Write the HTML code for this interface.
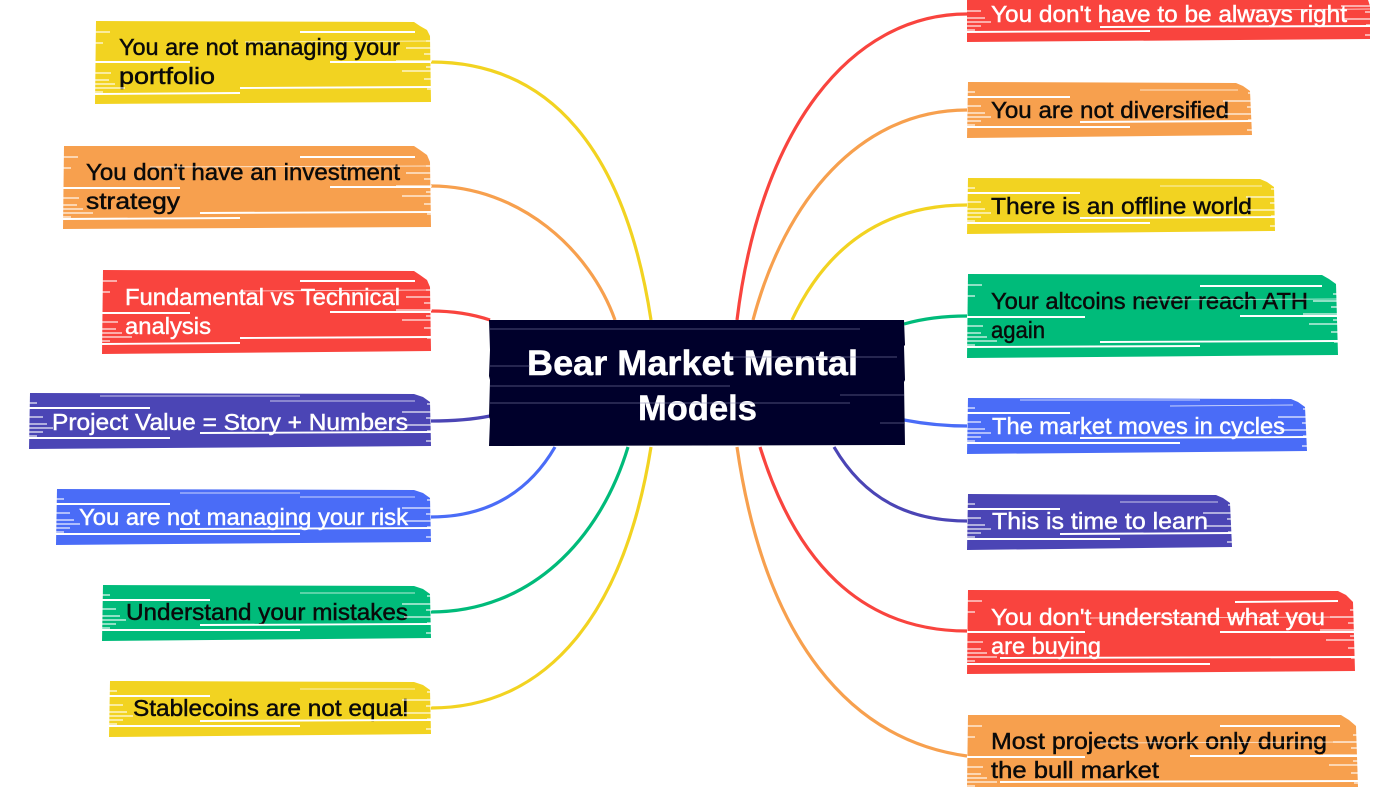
<!DOCTYPE html>
<html>
<head>
<meta charset="utf-8">
<style>
html,body{margin:0;padding:0;background:#fff;width:1400px;height:787px;overflow:hidden}
svg{display:block}
text{font-family:"Liberation Sans",sans-serif;font-size:23px;stroke-width:.45px;paint-order:stroke}
.k{fill:#0a0a0a;stroke:#0a0a0a}
.w{fill:#fff;stroke:#fff}
.c{fill:none;stroke-width:3.2;stroke-linecap:butt}
.s{stroke:#fff;stroke-width:1.9;fill:none}
.t{stroke:#fff;stroke-width:.9;fill:none;opacity:.7}
.n{stroke:#fff;stroke-width:1.2;fill:none;opacity:.9}
.d{stroke:#8a8ab0;stroke-width:1;fill:none;opacity:.55}
</style>
</head>
<body>
<svg width="1400" height="787" viewBox="0 0 1400 787" xmlns="http://www.w3.org/2000/svg">
<defs>
<path id="l2" class="n" d="M-1 11h15M-1 22h8M-1 52h16M-1 59h14M-1 63h20M-1 67h30M-1 71h8"/>
<path id="r2" class="n" d="M1 20h-6M1 27h-26M1 33h-8M1 40h-36M1 46h-6M1 50h-30M1 58h-8M1 68h-5"/>
<path id="l1" class="n" d="M-1 10h8M-1 24h14M-1 31h18M-1 35h24M-1 39h14M-1 43h8"/>
<path id="r1" class="n" d="M1 11h-5M1 19h-30M1 25h-6M1 32h-28M1 38h-5M1 48h-6"/>
</defs>
<!-- connectors -->
<path class="c" stroke="#f2d321" d="M431 62C550 62 625 150 651 320"/>
<path class="c" stroke="#f7a04e" d="M431 186C520 186 590 250 615 320"/>
<path class="c" stroke="#f9443e" d="M431 311C455 311 475 315 490 320"/>
<path class="c" stroke="#4b45b5" d="M431 421C455 421 475 419 490 416"/>
<path class="c" stroke="#4a6cf7" d="M431 517C490 517 530 490 555 447"/>
<path class="c" stroke="#00bb7a" d="M431 612C530 612 600 540 628 447"/>
<path class="c" stroke="#f2d321" d="M431 708C550 708 625 610 651 447"/>
<path class="c" stroke="#f9443e" d="M967 14C850 14 760 130 737 320"/>
<path class="c" stroke="#f7a04e" d="M967 110C860 110 785 200 753 320"/>
<path class="c" stroke="#f2d321" d="M967 205C880 205 825 250 792 320"/>
<path class="c" stroke="#00bb7a" d="M967 316C945 316 925 318 904 324"/>
<path class="c" stroke="#4a6cf7" d="M967 426C945 426 925 424 904 420"/>
<path class="c" stroke="#4b45b5" d="M967 521C910 521 865 500 834 447"/>
<path class="c" stroke="#f9443e" d="M967 631C860 631 795 560 760 447"/>
<path class="c" stroke="#f7a04e" d="M967 756C850 740 765 640 737 447"/>

<!-- left nodes -->
<g>
<path fill="#f2d321" d="M96 21L414 22 420 26 427 30 430 36 431 102 95 104 96 21Z"/>
<text class="k" x="119" y="55" textLength="281" lengthAdjust="spacingAndGlyphs">You are not managing your</text>
<text class="k" x="119" y="84" textLength="96" lengthAdjust="spacingAndGlyphs">portfolio</text>
<path class="s" d="M300 32L415 32M95 62L190 62M330 62L431 62M240 88L431 87M95 94L240 93"/>
<path class="t" d="M245 42L431 41"/>
<use href="#l2" x="96" y="21"/><use href="#r2" x="431" y="21"/>
</g>
<g>
<path fill="#f7a04e" d="M64 146L414 146 420 150 427 155 430 162 431 227 63 229 64 146Z"/>
<text class="k" x="86" y="180" textLength="314" lengthAdjust="spacingAndGlyphs">You don't have an investment</text>
<text class="k" x="86" y="209" textLength="94" lengthAdjust="spacingAndGlyphs">strategy</text>
<path class="s" d="M300 157L415 157M63 188L180 188M330 187L431 187M200 213L431 212M63 219L240 218"/>
<path class="t" d="M150 167L431 166"/>
<use href="#l2" x="64" y="146"/><use href="#r2" x="431" y="146"/>
</g>
<g>
<path fill="#f9443e" d="M103 270L414 271 420 275 427 280 430 287 431 351 102 354 103 270Z"/>
<text class="w" x="125" y="305" textLength="275" lengthAdjust="spacingAndGlyphs">Fundamental vs Technical</text>
<text class="w" x="125" y="334" textLength="86" lengthAdjust="spacingAndGlyphs">analysis</text>
<path class="s" d="M300 281L415 281M102 313L190 313M330 312L431 312M240 338L431 337M102 344L240 343"/>
<path class="t" d="M240 291L431 290"/>
<use href="#l2" x="103" y="270"/><use href="#r2" x="431" y="270"/>
</g>
<g>
<path fill="#4b45b5" d="M30 393L414 394 423 397 430 402 431 446 29 449 30 393Z"/>
<text class="w" x="52" y="430" textLength="356" lengthAdjust="spacingAndGlyphs">Project Value = Story + Numbers</text>
<path class="s" d="M29 408L150 408M200 433L431 432M29 438L170 438"/>
<path class="t" d="M270 401L415 401M100 396L300 396"/>
<use href="#l1" x="30" y="393"/><use href="#r1" x="431" y="393"/>
</g>
<g>
<path fill="#4a6cf7" d="M57 489L414 490 423 493 430 498 431 542 56 545 57 489Z"/>
<text class="w" x="79" y="525" textLength="329" lengthAdjust="spacingAndGlyphs">You are not managing your risk</text>
<path class="s" d="M56 504L170 504M180 529L431 528M56 534L300 534"/>
<path class="t" d="M300 497L415 497M180 493L300 493"/>
<use href="#l1" x="57" y="489"/><use href="#r1" x="431" y="489"/>
</g>
<g>
<path fill="#00bb7a" d="M103 585L414 586 423 589 430 594 431 638 102 641 103 585Z"/>
<text class="k" x="126" y="620" textLength="282" lengthAdjust="spacingAndGlyphs">Understand your mistakes</text>
<path class="s" d="M102 600L210 600M200 625L431 624M102 630L300 630"/>
<path class="t" d="M300 593L415 593"/>
<use href="#l1" x="103" y="585"/><use href="#r1" x="431" y="585"/>
</g>
<g>
<path fill="#f2d321" d="M110 681L414 682 423 685 430 690 431 734 109 737 110 681Z"/>
<text class="k" x="133" y="716" textLength="275" lengthAdjust="spacingAndGlyphs">Stablecoins are not equal</text>
<path class="s" d="M109 696L210 696M200 721L431 720M109 726L300 726"/>
<path class="t" d="M300 689L415 689"/>
<use href="#l1" x="110" y="681"/><use href="#r1" x="431" y="681"/>
</g>

<!-- right nodes -->
<g>
<path fill="#f9443e" d="M967 0L1368 0 1370 6 1370 39 967 42Z"/>
<text class="w" x="991" y="22" textLength="356" lengthAdjust="spacingAndGlyphs">You don't have to be always right</text>
<path class="s" d="M1100 27L1370 26M967 32L1150 31"/>
<path class="t" d="M1250 10L1370 9"/>
<use href="#l1" x="968" y="-13"/><use href="#r1" x="1370" y="-13"/>
</g>
<g>
<path fill="#f7a04e" d="M968 82L1236 83 1243 86 1250 91 1252 135 967 138Z"/>
<text class="k" x="991" y="118" textLength="238" lengthAdjust="spacingAndGlyphs">You are not diversified</text>
<path class="s" d="M967 97L1070 97M1080 122L1252 121M967 127L1130 127"/>
<path class="t" d="M1140 90L1238 90"/>
<use href="#l1" x="968" y="82"/><use href="#r1" x="1252" y="82"/>
</g>
<g>
<path fill="#f2d321" d="M968 178L1260 179 1267 182 1274 187 1275 231 967 234Z"/>
<text class="k" x="991" y="214" textLength="261" lengthAdjust="spacingAndGlyphs">There is an offline world</text>
<path class="s" d="M967 193L1080 193M1080 218L1275 217M967 223L1150 223"/>
<path class="t" d="M1160 186L1262 186"/>
<use href="#l1" x="968" y="178"/><use href="#r1" x="1275" y="178"/>
</g>
<g>
<path fill="#00bb7a" d="M968 274L1322 275 1329 279 1336 284 1338 355 967 358Z"/>
<text class="k" x="991" y="309" textLength="317" lengthAdjust="spacingAndGlyphs">Your altcoins never reach ATH</text>
<text class="k" x="991" y="338" textLength="54" lengthAdjust="spacingAndGlyphs">again</text>
<path class="s" d="M1200 286L1322 286M967 317L1085 317M1240 316L1338 316M1100 342L1338 341M967 347L1200 346"/>
<path class="t" d="M1140 300L1338 299"/>
<use href="#l2" x="968" y="274"/><use href="#r2" x="1338" y="274"/>
</g>
<g>
<path fill="#4a6cf7" d="M968 398L1291 399 1298 402 1305 407 1307 451 967 454Z"/>
<text class="w" x="992" y="434" textLength="293" lengthAdjust="spacingAndGlyphs">The market moves in cycles</text>
<path class="s" d="M967 413L1070 413M1080 438L1307 437M967 443L1180 443"/>
<path class="t" d="M1170 406L1293 405M1020 400L1200 400"/>
<use href="#l1" x="968" y="398"/><use href="#r1" x="1307" y="398"/>
</g>
<g>
<path fill="#4b45b5" d="M968 494L1216 495 1223 498 1230 503 1232 547 967 550Z"/>
<text class="w" x="992" y="529" textLength="216" lengthAdjust="spacingAndGlyphs">This is time to learn</text>
<path class="s" d="M967 509L1060 509M1060 534L1232 533M967 539L1120 539"/>
<path class="t" d="M1120 502L1218 502"/>
<use href="#l1" x="968" y="494"/><use href="#r1" x="1232" y="494"/>
</g>
<g>
<path fill="#f9443e" d="M968 590L1338 591 1346 595 1353 602 1355 671 967 674Z"/>
<text class="w" x="991" y="625" textLength="334" lengthAdjust="spacingAndGlyphs">You don't understand what you</text>
<text class="w" x="991" y="654" textLength="110" lengthAdjust="spacingAndGlyphs">are buying</text>
<path class="s" d="M1235 602L1338 601M967 632L1085 632M1220 632L1355 632M1000 658L1355 657M967 664L1210 664"/>
<path class="t" d="M1090 618L1355 617"/>
<use href="#l2" x="968" y="590"/><use href="#r2" x="1355" y="590"/>
</g>
<g>
<path fill="#f7a04e" d="M968 715L1341 715 1349 720 1356 726 1358 787 967 787Z"/>
<text class="k" x="991" y="749" textLength="336" lengthAdjust="spacingAndGlyphs">Most projects work only during</text>
<text class="k" x="991" y="778" textLength="168" lengthAdjust="spacingAndGlyphs">the bull market</text>
<path class="s" d="M1220 726L1340 726M967 757L1085 757M1190 756L1358 756M1000 782L1358 781"/>
<path class="t" d="M1100 743L1358 742"/>
<use href="#l2" x="968" y="715"/><use href="#r2" x="1358" y="715"/>
</g>

<!-- centre -->
<path fill="#00002b" d="M489 320L904 320 905 345 904 346 905 380 904 382 905 445 489 446 490 420 489 416 490 380 489 376 490 350Z"/>
<text fill="#fff" stroke="#fff" x="527" y="375" textLength="331" lengthAdjust="spacingAndGlyphs" style="font-size:35px;font-weight:bold">Bear Market Mental</text>
<text fill="#fff" stroke="#fff" x="638" y="420" textLength="119" lengthAdjust="spacingAndGlyphs" style="font-size:35px;font-weight:bold">Models</text>
<path class="d" d="M490 329L860 329M730 357L897 357M490 366L530 366M490 386L730 386M840 395L904 395M490 403L850 403M880 423L904 423"/>
</svg>
</body>
</html>
